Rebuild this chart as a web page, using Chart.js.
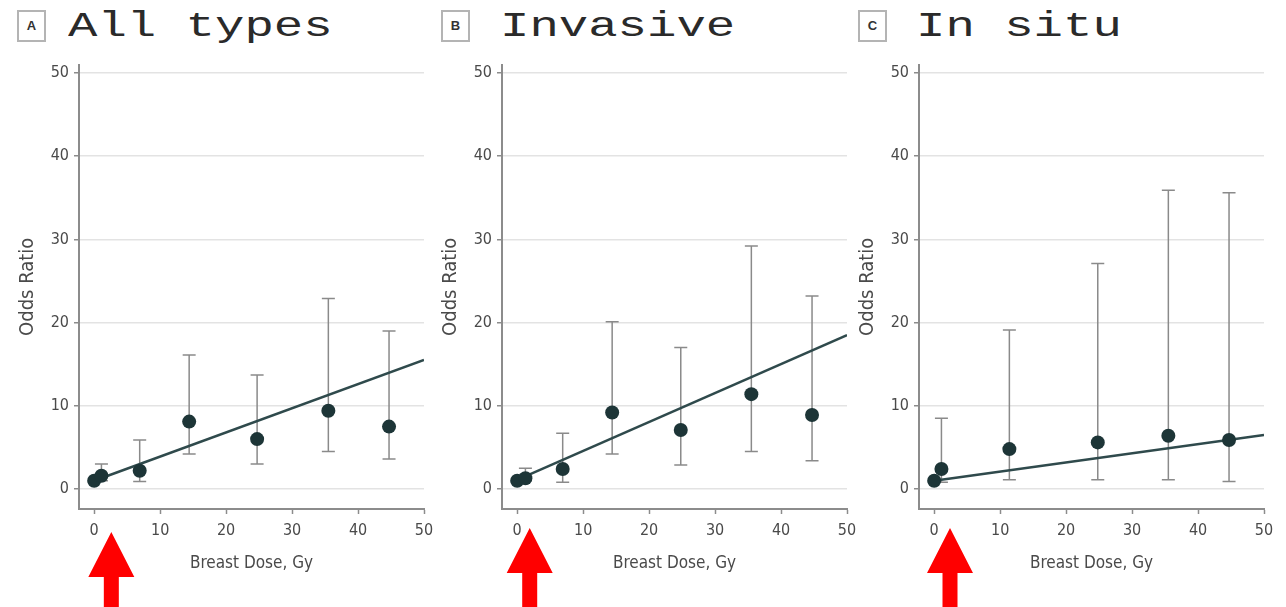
<!DOCTYPE html>
<html>
<head>
<meta charset="utf-8">
<script src="https://cdn.jsdelivr.net/npm/chart.js@4.4.1/dist/chart.umd.min.js"></script>
<style>
  html, body { margin: 0; padding: 0; background: #fff; }
  body { width: 1286px; height: 607px; position: relative; overflow: hidden; }
  canvas { position: absolute; top: 50px; }
  .tag {
    position: absolute; top: 10px; width: 25px; height: 28px;
    border: 2px solid #b4b4b4; box-sizing: content-box;
    font: bold 13px "Liberation Sans", Arial, sans-serif; color: #333;
    text-align: center; line-height: 28px;
  }
  .ttl {
    position: absolute; top: -2px; margin: 0;
    font: 49px/48px "Liberation Mono", "DejaVu Sans Mono", monospace; color: #2a2a2a;
    white-space: pre; transform: scaleY(0.7); transform-origin: 0 41px;
  }
</style>
</head>
<body>
<div class="tag" style="left:17px">A</div><div class="ttl" style="left:68px">All types</div>
<div class="tag" style="left:441px">B</div><div class="ttl" style="left:500px">Invasive</div>
<div class="tag" style="left:858px">C</div><div class="ttl" style="left:916px">In situ</div>
<canvas id="pA" width="446" height="557" style="left:0px"></canvas>
<canvas id="pB" width="446" height="557" style="left:423px"></canvas>
<canvas id="pC" width="446" height="557" style="left:840px"></canvas>
<script>
'use strict';

// axis ticks
const doseTicks = [0, 10, 20, 30, 40, 50];
const oddsTicks = [0, 10, 20, 30, 40, 50];

// A: all types
const allDose = [0, 1.1, 6.9, 14.4, 24.7, 35.5, 44.7];
const allOdds = [1.0, 1.6, 2.2, 8.1, 6.0, 9.4, 7.5];
const allLow  = [null, 1.0, 0.9, 4.2, 3.0, 4.5, 3.6];
const allHigh = [null, 3.0, 5.9, 16.1, 13.7, 22.9, 19.0];
const allFit  = [1.0, 15.5];      // fitted OR at 0 Gy and 50 Gy

// B: invasive
const invDose = [0, 1.25, 6.9, 14.4, 24.8, 35.5, 44.7];
const invOdds = [1.0, 1.3, 2.4, 9.2, 7.1, 11.4, 8.9];
const invLow  = [null, 1.0, 0.8, 4.2, 2.9, 4.5, 3.4];
const invHigh = [null, 2.5, 6.7, 20.1, 17.0, 29.2, 23.2];
const invFit  = [1.1, 18.5];

// C: in situ
const situDose = [0, 1.1, 11.4, 24.8, 35.5, 44.7];
const situOdds = [1.0, 2.4, 4.8, 5.6, 6.4, 5.9];
const situLow  = [null, 0.8, 1.1, 1.1, 1.1, 0.9];
const situHigh = [null, 8.5, 19.1, 27.1, 35.9, 35.6];
const situFit  = [1.0, 6.5];

// red arrows under the x axis (dose where they point)
const arrowDose = [2.6, 1.9, 2.4];

const FONT = '"Liberation Sans Narrow", "DejaVu Sans Condensed", "Liberation Sans", sans-serif';
const DOT = '#1d3537';
const FIT = '#2f4a4c';
const AXIS = '#8c8c8c';
const TXT = '#4a4a4a';

const errorBars = {
  id: 'errorBars',
  beforeDatasetsDraw(chart, args, opts) {
    const { ctx, scales: { x, y } } = chart;
    ctx.save();
    ctx.strokeStyle = '#8a8a8a';
    ctx.lineWidth = 1.5;
    opts.dose.forEach((d, i) => {
      if (opts.high[i] == null) return;
      const px = x.getPixelForValue(d);
      const top = y.getPixelForValue(opts.high[i]);
      const bot = y.getPixelForValue(opts.low[i]);
      ctx.beginPath();
      ctx.moveTo(px, top); ctx.lineTo(px, bot);
      ctx.moveTo(px - 6.5, top); ctx.lineTo(px + 6.5, top);
      ctx.moveTo(px - 6.5, bot); ctx.lineTo(px + 6.5, bot);
      ctx.stroke();
    });
    ctx.restore();
  },
};

const redArrow = {
  id: 'redArrow',
  afterDraw(chart, args, opts) {
    const { ctx, chartArea, scales: { x } } = chart;
    const cx = x.getPixelForValue(opts.at);
    const tip = chartArea.bottom + opts.gap;
    ctx.save();
    ctx.fillStyle = '#ff0000';
    ctx.beginPath();
    ctx.moveTo(cx, tip);
    ctx.lineTo(cx + 23, tip + 45);
    ctx.lineTo(cx + 7.5, tip + 45);
    ctx.lineTo(cx + 7.5, tip + 80);
    ctx.lineTo(cx - 7.5, tip + 80);
    ctx.lineTo(cx - 7.5, tip + 45);
    ctx.lineTo(cx - 23, tip + 45);
    ctx.closePath();
    ctx.fill();
    ctx.restore();
  },
};

function makePanel(id, dose, odds, low, high, fit, arrowAt, gap) {
  const pts = dose.map((d, i) => ({ x: d, y: odds[i] }));
  const line = [{ x: doseTicks[0], y: fit[0] }, { x: doseTicks[doseTicks.length - 1], y: fit[1] }];
  return new Chart(document.getElementById(id).getContext('2d'), {
    type: 'scatter',
    data: {
      datasets: [
        { data: pts, pointRadius: 7, pointBackgroundColor: DOT, pointBorderWidth: 0, order: 0 },
        { data: line, showLine: true, borderColor: FIT, borderWidth: 2.5, pointRadius: 0, order: 1 },
      ],
    },
    options: {
      responsive: false, animation: false, events: [],
      layout: { padding: { top: 12, right: 22, left: 0, bottom: 0 } },
      plugins: {
        legend: { display: false }, tooltip: { enabled: false },
        errorBars: { dose, low, high },
        redArrow: { at: arrowAt, gap },
      },
      scales: {
        x: {
          type: 'linear', min: -2.3, max: 50,
          afterBuildTicks: (s) => { s.ticks = doseTicks.map((v) => ({ value: v })); },
          afterFit: (s) => { s.height = 98; },
          ticks: { color: TXT, font: { family: FONT, size: 16 }, padding: 7, maxRotation: 0, autoSkip: false },
          grid: { drawOnChartArea: false, tickLength: 5, tickColor: AXIS, tickWidth: 1.5 },
          border: { color: AXIS, width: 2 },
          title: { display: true, text: 'Breast Dose, Gy', color: TXT, font: { family: FONT, size: 17 }, padding: { top: 0, bottom: 33 } },
        },
        y: {
          type: 'linear', min: -2.4, max: 51,
          afterBuildTicks: (s) => { s.ticks = oddsTicks.map((v) => ({ value: v })); },
          afterFit: (s) => { s.width = 79; },
          ticks: { color: TXT, font: { family: FONT, size: 16 }, padding: 5 },
          grid: { color: '#e3e3e3', lineWidth: 1.5, tickLength: 5, tickColor: AXIS, tickWidth: 1.5 },
          border: { color: AXIS, width: 2 },
          title: { display: true, text: 'Odds Ratio', color: TXT, font: { family: FONT, size: 20 }, padding: { top: 16, bottom: 0 } },
        },
      },
    },
    plugins: [errorBars, redArrow],
  });
}

makePanel('pA', allDose, allOdds, allLow, allHigh, allFit, arrowDose[0], 23);
makePanel('pB', invDose, invOdds, invLow, invHigh, invFit, arrowDose[1], 19);
makePanel('pC', situDose, situOdds, situLow, situHigh, situFit, arrowDose[2], 19);
</script>
</body>
</html>
